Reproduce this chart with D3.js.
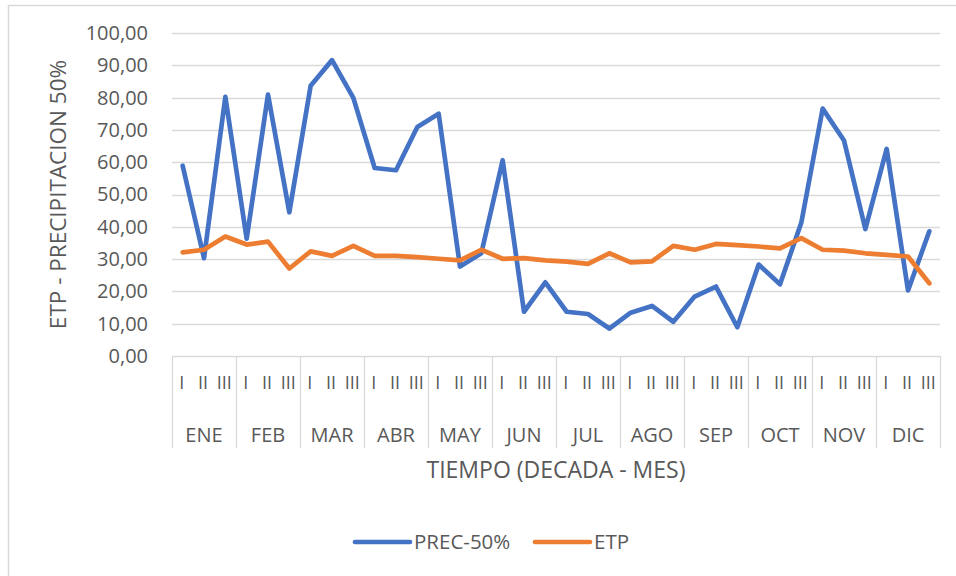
<!DOCTYPE html>
<html>
<head>
<meta charset="utf-8">
<script src="https://cdn.jsdelivr.net/npm/d3@7"></script>
<style>
	body { margin: 0; background: #ffffff; }
	svg { display: block; font-family: "Open Sans", sans-serif; }
	text { fill: #595959; }
</style>
</head>
<body>
<div id="chart"></div>
<script>
var months = ["ENE", "FEB", "MAR", "ABR", "MAY", "JUN", "JUL", "AGO", "SEP", "OCT", "NOV", "DIC"];
var decades = ["I", "II", "III"];
var yTicks = [0, 10, 20, 30, 40, 50, 60, 70, 80, 90, 100];

var prec50 = [
	58.9, 30.3, 80.2, 36.3, 80.9, 44.5, 83.7, 91.6, 79.9,
	58.2, 57.5, 70.9, 75.0, 27.7, 31.8, 60.6, 13.7, 22.8,
	13.7, 13.0, 8.5, 13.4, 15.5, 10.6, 18.4, 21.5, 8.9,
	28.3, 22.2, 41.3, 76.6, 66.7, 39.3, 64.1, 20.3, 38.6
];
var etp = [
	32.1, 32.9, 37.0, 34.5, 35.4, 27.1, 32.4, 31.0, 34.1,
	31.0, 31.0, 30.6, 30.1, 29.6, 32.9, 30.1, 30.3, 29.6,
	29.2, 28.5, 31.8, 29.0, 29.3, 34.1, 32.9, 34.7, 34.3,
	33.9, 33.3, 36.5, 32.9, 32.6, 31.8, 31.3, 30.8, 22.5
];

var seriesNames = ["PREC-50%", "ETP"];
var seriesColors = ["#4472C4", "#ED7D31"];

(function () {
	var width = 956, height = 576;
	var plot = { left: 172, right: 940, top: 33, bottom: 356 };

	// one slot per decade, month + decade as the key
	var slots = [];
	months.forEach(function (m) {
		decades.forEach(function (d) {
			slots.push(m + "-" + d);
		});
	});

	var x = d3.scaleBand().domain(slots).range([plot.left, plot.right]);
	var xMonth = d3.scaleBand().domain(months).range([plot.left, plot.right]);
	var y = d3.scaleLinear().domain([0, 100]).range([plot.bottom, plot.top]);
	var fmt = function (v) { return d3.format(".2f")(v).replace(".", ","); };

	var svg = d3.select("#chart").append("svg")
		.attr("width", width)
		.attr("height", height);

	// chart frame
	svg.append("path")
		.attr("d", "M8.5," + height + "V5.5H" + width)
		.attr("fill", "none")
		.attr("stroke", "#D9D9D9")
		.attr("stroke-width", 1.5);

	// gridlines
	svg.append("g")
		.attr("class", "grid")
		.selectAll("line")
		.data(yTicks.slice(1))
		.enter().append("line")
		.attr("x1", plot.left)
		.attr("x2", plot.right)
		.attr("y1", function (d) { return Math.round(y(d)) + 0.5; })
		.attr("y2", function (d) { return Math.round(y(d)) + 0.5; })
		.attr("stroke", "#D9D9D9")
		.attr("stroke-width", 1.3);

	// y axis
	var yAxis = svg.append("g")
		.attr("transform", "translate(" + (plot.left - 24) + ",0)")
		.call(d3.axisLeft(y).tickValues(yTicks).tickFormat(fmt).tickSize(0).tickPadding(0));
	yAxis.select(".domain").remove();
	yAxis.selectAll("text")
		.style("font-size", "20px")
		.style("font-family", "'Open Sans', sans-serif")
		.attr("fill", "#595959");

	// category box
	var boxBottom = 448;
	svg.append("line")
		.attr("x1", plot.left)
		.attr("x2", plot.right)
		.attr("y1", plot.bottom + 0.5)
		.attr("y2", plot.bottom + 0.5)
		.attr("stroke", "#D9D9D9")
		.attr("stroke-width", 1.3);

	var seps = months.map(function (m) { return xMonth(m); }).concat([plot.right]);
	svg.append("g")
		.selectAll("line")
		.data(seps)
		.enter().append("line")
		.attr("x1", function (d) { return Math.round(d) + 0.5; })
		.attr("x2", function (d) { return Math.round(d) + 0.5; })
		.attr("y1", plot.bottom)
		.attr("y2", boxBottom)
		.attr("stroke", "#D9D9D9")
		.attr("stroke-width", 1.3);

	// decade labels
	svg.append("g")
		.selectAll("text")
		.data(slots)
		.enter().append("text")
		.attr("x", function (d) { return x(d) + x.bandwidth() / 2 - 1; })
		.attr("y", 383)
		.attr("dy", "0.35em")
		.attr("text-anchor", "middle")
		.style("font-size", "18px")
		.text(function (d) { return d.split("-")[1]; });

	// month labels
	svg.append("g")
		.selectAll("text")
		.data(months)
		.enter().append("text")
		.attr("x", function (d) { return xMonth(d) + xMonth.bandwidth() / 2; })
		.attr("y", 435)
		.attr("dy", "0.35em")
		.attr("text-anchor", "middle")
		.style("font-size", "20px")
		.text(function (d) { return d; });

	// axis titles
	svg.append("text")
		.attr("x", (plot.left + plot.right) / 2)
		.attr("y", 470)
		.attr("dy", "0.35em")
		.attr("text-anchor", "middle")
		.style("font-size", "23px")
		.text("TIEMPO (DECADA - MES)");

	svg.append("text")
		.attr("transform", "translate(58," + ((plot.top + plot.bottom) / 2) + ") rotate(-90)")
		.attr("dy", "0.35em")
		.attr("text-anchor", "middle")
		.style("font-size", "22.5px")
		.text("ETP - PRECIPITACION 50%");

	// series lines
	var line = d3.line()
		.x(function (d, i) { return x(slots[i]) + x.bandwidth() / 2; })
		.y(function (d) { return y(d); });

	svg.append("g")
		.selectAll("path")
		.data([prec50, etp])
		.enter().append("path")
		.attr("d", line)
		.attr("fill", "none")
		.attr("stroke", function (d, i) { return seriesColors[i]; })
		.attr("stroke-width", 4.7)
		.attr("stroke-linejoin", "round")
		.attr("stroke-linecap", "round");

	// legend
	var legendX = [355, 535];
	var legend = svg.append("g")
		.selectAll("g")
		.data(seriesNames)
		.enter().append("g")
		.attr("transform", function (d, i) { return "translate(" + legendX[i] + ",542)"; });
	legend.append("line")
		.attr("x1", 0)
		.attr("x2", 55)
		.attr("stroke", function (d, i) { return seriesColors[i]; })
		.attr("stroke-width", 4.7)
		.attr("stroke-linecap", "round");
	legend.append("text")
		.attr("x", 59)
		.attr("dy", "0.35em")
		.style("font-size", "20.5px")
		.text(function (d) { return d; });
})();
</script>
</body>
</html>
